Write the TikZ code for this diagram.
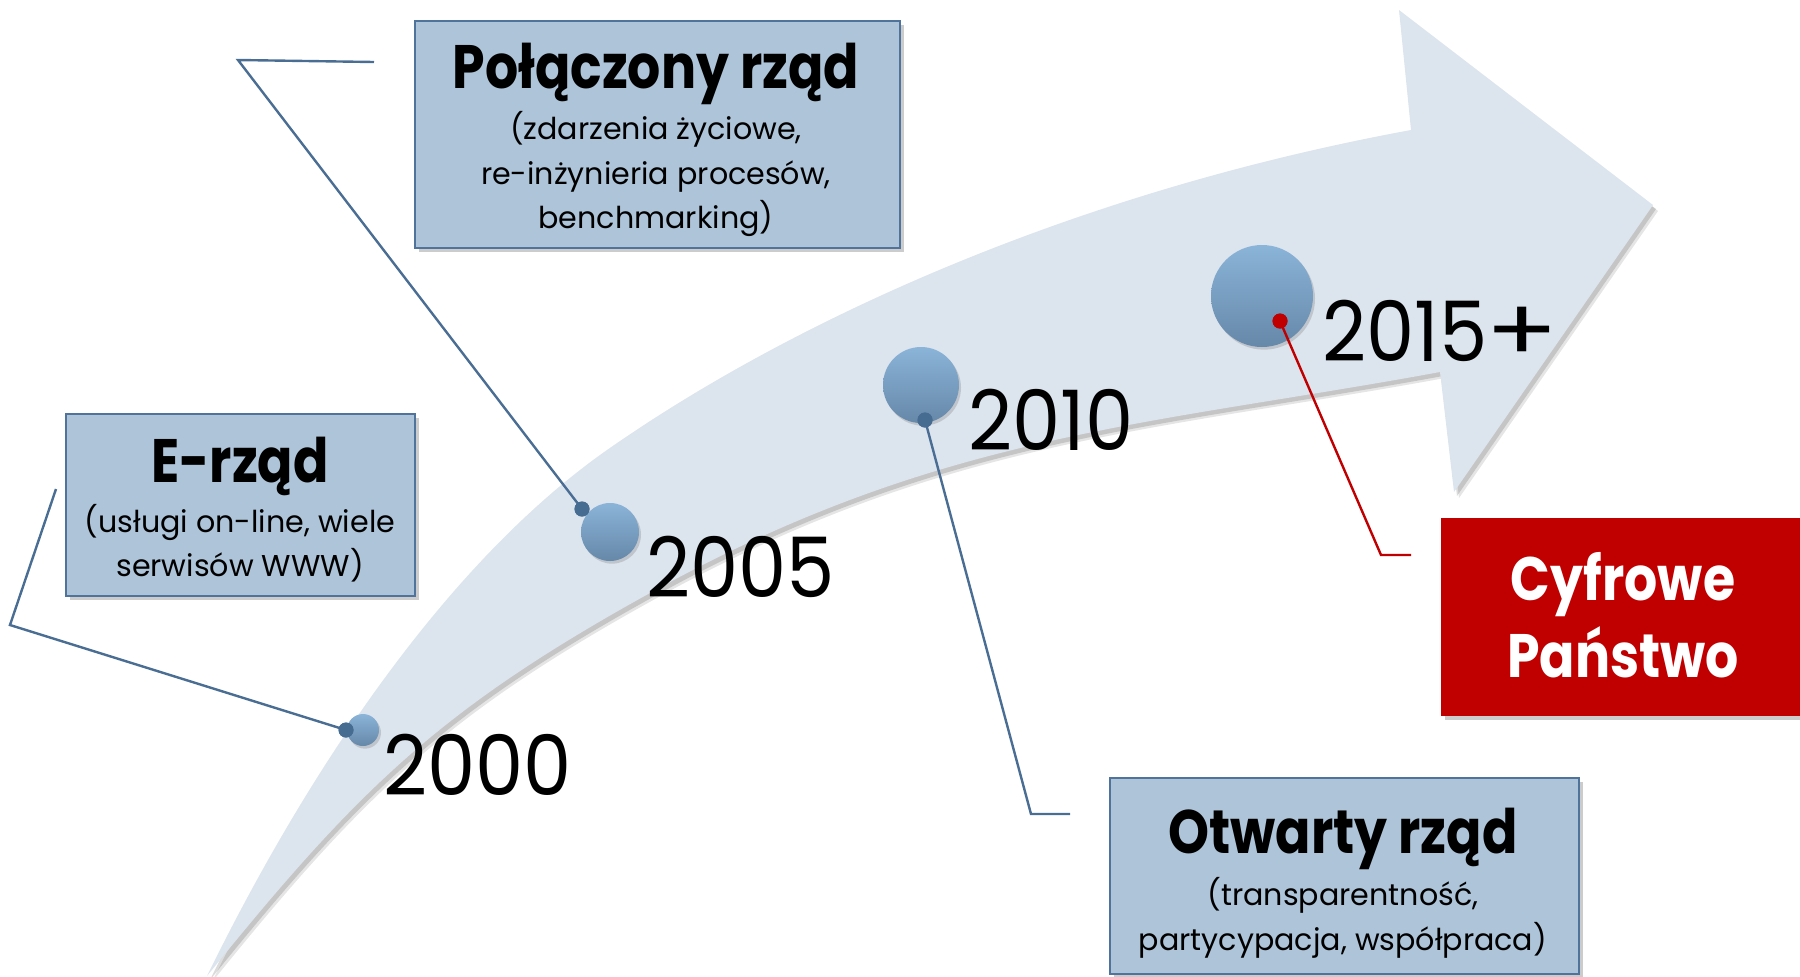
\documentclass[tikz,border=0pt]{standalone}
\usepackage{fontspec}
\setmainfont{Poppins}
\newfontfamily\titlefont[FakeStretch=0.85]{Poppins}
\newfontfamily\subfont{Poppins}
\newfontfamily\yearfont[FakeStretch=0.92,Numbers=Monospaced]{Poppins}
\usetikzlibrary{shadows}
\definecolor{arrowfill}{HTML}{DCE4EE}
\definecolor{boxfill}{HTML}{ADC4D9}
\definecolor{boxline}{HTML}{4F739B}
\definecolor{lineblue}{HTML}{4A6D94}
\definecolor{dotblue}{HTML}{476C91}
\definecolor{circtop}{HTML}{8AB4D8}
\definecolor{circbot}{HTML}{6688A9}
\definecolor{redbox}{HTML}{C00000}
\tikzset{
  box/.style={draw=boxline, line width=1.5pt, fill=boxfill, anchor=north west, inner sep=0pt,
    drop shadow={opacity=0.4, shadow xshift=3pt, shadow yshift=-3pt}},
  redrect/.style={fill=redbox, anchor=north west, inner sep=0pt,
    drop shadow={opacity=0.4, shadow xshift=3pt, shadow yshift=-3pt}},
  ball/.style={circle, inner sep=0pt, top color=circtop, bottom color=circbot,
    drop shadow={opacity=0.3, shadow xshift=1.5pt, shadow yshift=-2pt}},
  dot/.style={circle, inner sep=0pt, minimum size=11.25pt, fill=dotblue},
  reddot/.style={circle, inner sep=0pt, minimum size=11.25pt, fill=redbox},
  conn/.style={draw=lineblue, line width=1.8pt, line join=miter},
  redconn/.style={draw=redbox, line width=1.8pt, line join=miter},
  year/.style={anchor=base west, inner sep=0pt, font=\yearfont\fontsize{62.5}{64}\selectfont},
  ttl/.style={anchor=base, inner sep=0pt, font=\titlefont\bfseries\fontsize{46}{52}\selectfont},
  sub/.style={anchor=base, inner sep=0pt, font=\subfont\fontsize{22.6}{26}\selectfont},
}
\begin{document}
\begin{tikzpicture}[x=0.75pt,y=-0.75pt]
\useasboundingbox (0,0) rectangle (1800,976);
% arrow with shadow
\foreach \dx/\dy/\col/\op in {5/6/black/0.10, 3/4/black/0.14, 0/0/arrowfill/1}{
  \fill[\col, opacity=\op, shift={(\dx,\dy)}]
    (207,976) .. controls (304,778) and (443,565) .. (607,450)
    .. controls (787,324) and (1068,193) .. (1411,130)
    -- (1399,10) -- (1653,205) -- (1454,492) -- (1440,372)
    .. controls (1146,426) and (938,433) .. (650,593)
    .. controls (440,709) and (358,789) .. (207,976) -- cycle;
}
% circles
\node[ball, minimum size=24pt] (c2000) at (363,730) {};
\node[ball, minimum size=43.5pt] (c2005) at (610,532) {};
\node[ball, minimum size=57pt] (c2010) at (921,385) {};
\node[ball, minimum size=76.5pt] (c2015) at (1262,296) {};
% years
\node[year] (y2000) at (383,795) {2000};
\node[year] (y2005) at (646,597) {2005};
\node[year] (y2010) at (968,450) {2010};
\node[year] (y2015) at (1322,361) {2015\kern-1pt\scalebox{1.4}[1.05]{+}};
% connector end points
\coordinate (b2000) at (10,625);
\coordinate (e2000) at (56,489);
\coordinate (b2005) at (238,60);
\coordinate (e2005) at (374,62);
\coordinate (b2010) at (1031,814);
\coordinate (e2010) at (1070,814);
\coordinate (b2015) at (1381,555);
\coordinate (e2015) at (1411,555);
% dots
\node[dot] (d2000) at (346,730) {};
\node[dot] (d2005) at (582,509) {};
\node[dot] (d2010) at (925,420) {};
\node[reddot] (d2015) at (1280,321) {};
% connectors
\draw[conn] (d2000.center) -- (b2000) -- (e2000);
\draw[conn] (d2005.center) -- (b2005) -- (e2005);
\draw[conn] (d2010.center) -- (b2010) -- (e2010);
\draw[redconn] (d2015.center) -- (b2015) -- (e2015);
\node[dot] at (d2000) {};
\node[dot] at (d2005) {};
\node[dot] at (d2010) {};
\node[reddot] at (d2015) {};
% boxes
\node[box, minimum width=363.75pt, minimum height=170.25pt] (box1) at (414,20) {};
\node[ttl] (t1) at (656,88) {Połączony rząd};
\node[sub] (s1a) at (656,139) {(zdarzenia życiowe,};
\node[sub] (s1b) at (656,184) {re-inżynieria procesów,};
\node[sub] (s1c) at (656,228) {benchmarking)};

\node[box, minimum width=261.75pt, minimum height=136.5pt] (box2) at (65,413) {};
\node[ttl] (t2) at (240,482) {E-rząd};
\node[sub] (s2a) at (240,532) {(usługi on-line, wiele};
\node[sub] (s2b) at (240,576) {serwisów WWW)};

\node[box, minimum width=351.75pt, minimum height=147pt] (box3) at (1109,777) {};
\node[ttl] (t3) at (1343,853) {Otwarty rząd};
\node[sub] (s3a) at (1343,905) {(transparentność,};
\node[sub] (s3b) at (1343,950) {partycypacja, współpraca)};

\node[redrect, minimum width=273pt, minimum height=148.5pt] (box4) at (1441,518) {};
\node[ttl, text=white] (t4) at (1623,600) {Cyfrowe};
\node[ttl, text=white] (t4b) at (1623,677) {Państwo};
\end{tikzpicture}
\end{document}
